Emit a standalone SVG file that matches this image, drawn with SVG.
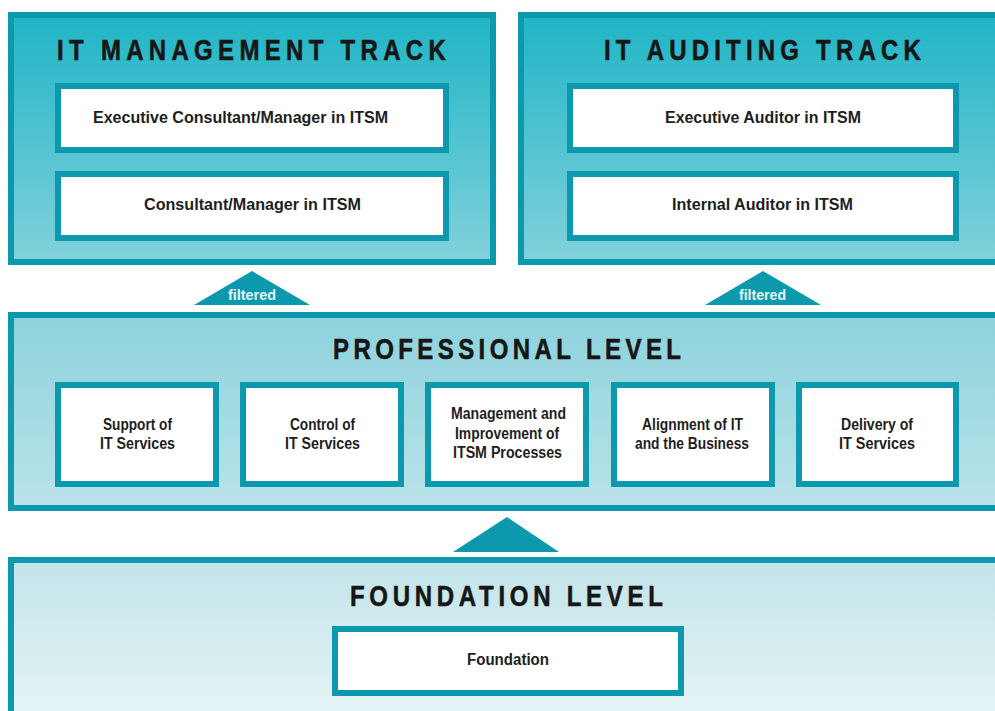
<svg xmlns="http://www.w3.org/2000/svg" width="995" height="711" viewBox="0 0 995 711">
<defs>
<linearGradient id="gTrack" x1="0" y1="0" x2="0" y2="1">
<stop offset="0" stop-color="#1fb5c6"/>
<stop offset="1" stop-color="#82d1db"/>
</linearGradient>
<linearGradient id="gProf" x1="0" y1="0" x2="0" y2="1">
<stop offset="0" stop-color="#8dd2dc"/>
<stop offset="1" stop-color="#bae3e9"/>
</linearGradient>
<linearGradient id="gFound" x1="0" y1="0" x2="0" y2="1">
<stop offset="0" stop-color="#c2e4e9"/>
<stop offset="1" stop-color="#e6f4f6"/>
</linearGradient>
</defs>
<style>
.frame{stroke:#0c99ad;stroke-width:6}
.box{fill:#ffffff;stroke:#0c99ad;stroke-width:6}
.title{font-family:"Liberation Sans",Arial,sans-serif;font-weight:bold;font-size:30px;fill:#161616;stroke:#161616;stroke-width:0.6}
.lbl{font-family:"Liberation Sans",Arial,sans-serif;font-weight:bold;font-size:16px;fill:#1e1e1e}
.flt{font-family:"Liberation Sans",Arial,sans-serif;font-weight:bold;font-size:14px;fill:#e6f6f8}
.arrow{fill:#0c99ad}
</style>
<rect width="995" height="711" fill="#ffffff"/>

<g id="it-management-track">
<rect class="frame" x="11" y="15" width="482" height="247" fill="url(#gTrack)"/>
<text class="title" transform="translate(57,60) scale(0.8,1)" x="0" y="0" textLength="486" lengthAdjust="spacing">IT MANAGEMENT TRACK</text>
</g>
<g id="exec-consultant">
<rect class="box" x="58" y="86" width="388" height="64"/>
<text class="lbl" x="93" y="123" textLength="295" lengthAdjust="spacingAndGlyphs">Executive Consultant/Manager in ITSM</text>
</g>
<g id="consultant">
<rect class="box" x="58" y="174" width="388" height="64"/>
<text class="lbl" x="144" y="210" textLength="217" lengthAdjust="spacingAndGlyphs">Consultant/Manager in ITSM</text>
</g>

<g id="it-auditing-track">
<rect class="frame" x="521" y="15" width="480" height="247" fill="url(#gTrack)"/>
<text class="title" transform="translate(604,60) scale(0.8,1)" x="0" y="0" textLength="396" lengthAdjust="spacing">IT AUDITING TRACK</text>
</g>
<g id="exec-auditor">
<rect class="box" x="570" y="86" width="386" height="64"/>
<text class="lbl" x="665" y="123" textLength="196" lengthAdjust="spacingAndGlyphs">Executive Auditor in ITSM</text>
</g>
<g id="internal-auditor">
<rect class="box" x="570" y="174" width="386" height="64"/>
<text class="lbl" x="672" y="210" textLength="181" lengthAdjust="spacingAndGlyphs">Internal Auditor in ITSM</text>
</g>

<g id="professional-level">
<rect class="frame" x="11" y="315" width="990" height="193" fill="url(#gProf)"/>
<text class="title" transform="translate(333,359) scale(0.8,1)" x="0" y="0" textLength="435" lengthAdjust="spacing">PROFESSIONAL LEVEL</text>
</g>
<g id="support">
<rect class="box" x="58" y="385" width="158" height="99"/>
<text class="lbl" x="103" y="430" textLength="69" lengthAdjust="spacingAndGlyphs">Support of</text>
<text class="lbl" x="100" y="449" textLength="75" lengthAdjust="spacingAndGlyphs">IT Services</text>
</g>
<g id="control">
<rect class="box" x="243" y="385" width="158" height="99"/>
<text class="lbl" x="290" y="430" textLength="65" lengthAdjust="spacingAndGlyphs">Control of</text>
<text class="lbl" x="285" y="449" textLength="75" lengthAdjust="spacingAndGlyphs">IT Services</text>
</g>
<g id="management">
<rect class="box" x="428" y="385" width="158" height="99"/>
<text class="lbl" x="451" y="419" textLength="115" lengthAdjust="spacingAndGlyphs">Management and</text>
<text class="lbl" x="455" y="439" textLength="104" lengthAdjust="spacingAndGlyphs">Improvement of</text>
<text class="lbl" x="453" y="458" textLength="109" lengthAdjust="spacingAndGlyphs">ITSM Processes</text>
</g>
<g id="alignment">
<rect class="box" x="614" y="385" width="158" height="99"/>
<text class="lbl" x="642" y="430" textLength="101" lengthAdjust="spacingAndGlyphs">Alignment of IT</text>
<text class="lbl" x="635" y="449" textLength="114" lengthAdjust="spacingAndGlyphs">and the Business</text>
</g>
<g id="delivery">
<rect class="box" x="799" y="385" width="157" height="99"/>
<text class="lbl" x="841" y="430" textLength="72" lengthAdjust="spacingAndGlyphs">Delivery of</text>
<text class="lbl" x="839" y="449" textLength="76" lengthAdjust="spacingAndGlyphs">IT Services</text>
</g>

<g id="foundation-level">
<rect class="frame" x="11" y="560" width="990" height="160" fill="url(#gFound)"/>
<text class="title" transform="translate(350,606) scale(0.8,1)" x="0" y="0" textLength="391" lengthAdjust="spacing">FOUNDATION LEVEL</text>
</g>
<g id="foundation">
<rect class="box" x="335" y="629" width="346" height="64"/>
<text class="lbl" x="467" y="665" textLength="82" lengthAdjust="spacingAndGlyphs">Foundation</text>
</g>

<g id="connectors">
<polygon class="arrow" points="252,271 194,305 310,305"/>
<text class="flt" x="228" y="300" textLength="48" lengthAdjust="spacingAndGlyphs">filtered</text>
<polygon class="arrow" points="763,271 705,305 821,305"/>
<text class="flt" x="739" y="300" textLength="47" lengthAdjust="spacingAndGlyphs">filtered</text>
<polygon class="arrow" points="507,517 453,552 559,552"/>
</g>
</svg>
